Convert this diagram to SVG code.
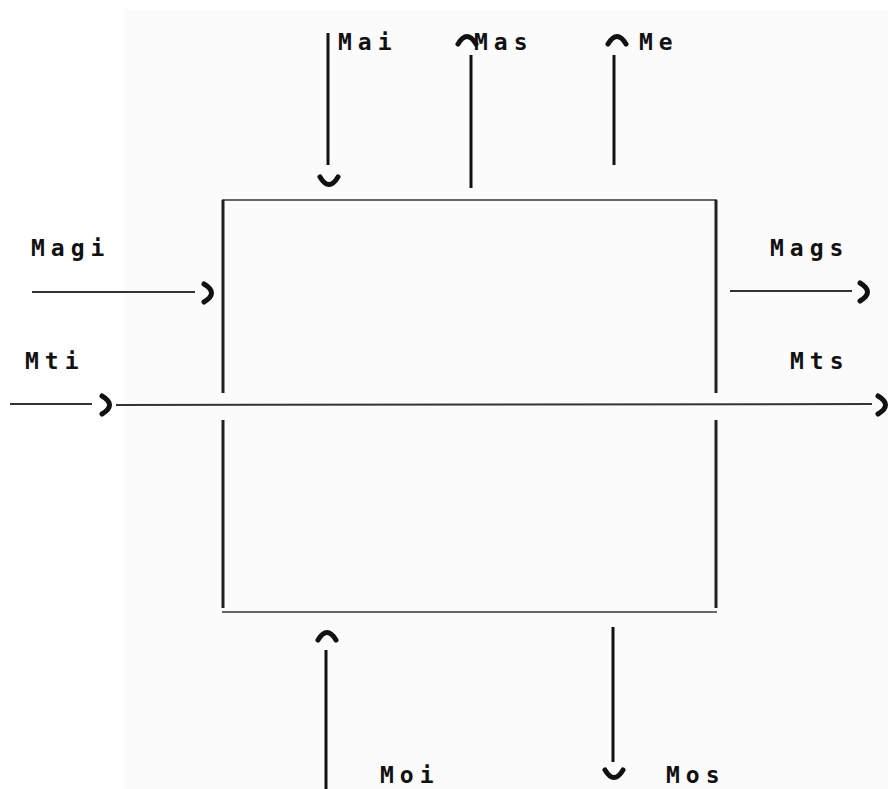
<svg xmlns="http://www.w3.org/2000/svg" width="888" height="789" viewBox="0 0 888 789">
<style>
.bg{fill:#fbfbfb}
.box{stroke:#222;stroke-width:3;fill:none}
.edge{stroke:#666;stroke-width:2;fill:none}
.conn{stroke:#111;stroke-width:3;fill:none}
.hconn{stroke:#333;stroke-width:2;fill:none}
.head{stroke:#111;stroke-width:5;fill:none;stroke-linecap:round}
.lbl{font-family:"DejaVu Sans Mono","Liberation Mono",monospace;font-weight:bold;font-size:23px;letter-spacing:6px;fill:#111}
</style>
<defs>
<path id="hdown" class="head" d="M-9,-4 Q0,11 9,-4"/>
<path id="hup" class="head" d="M-9,4 Q0,-11 9,4"/>
<path id="hright" class="head" d="M-4,-9 Q11,0 -4,9"/>
</defs>
<rect class="bg" x="124" y="9" width="764" height="780"/>
<g id="box">
<line class="edge" x1="222" y1="200" x2="717" y2="200"/>
<line class="edge" x1="222" y1="612" x2="717" y2="612"/>
<line class="box" x1="223" y1="200" x2="223" y2="393"/>
<line class="box" x1="223" y1="420" x2="223" y2="608"/>
<line class="box" x1="716" y1="200" x2="716" y2="393"/>
<line class="box" x1="716" y1="420" x2="716" y2="608"/>
</g>
<g id="connectors">
<line class="conn" x1="328" y1="33" x2="328" y2="165"/>
<use href="#hdown" x="329" y="181"/>
<line class="conn" x1="471" y1="55" x2="471" y2="188"/>
<use href="#hup" x="467" y="40"/>
<line class="conn" x1="614" y1="55" x2="614" y2="165"/>
<use href="#hup" x="617" y="40"/>
<line class="hconn" x1="32" y1="292" x2="195" y2="292"/>
<use href="#hright" x="208" y="293"/>
<line class="hconn" x1="730" y1="291" x2="852" y2="291"/>
<use href="#hright" x="864" y="292"/>
<line class="hconn" x1="10" y1="404" x2="92" y2="404"/>
<use href="#hright" x="106" y="405"/>
<line class="hconn" x1="116" y1="405" x2="872" y2="404"/>
<use href="#hright" x="882" y="405"/>
<use href="#hup" x="327" y="636"/>
<line class="conn" x1="326" y1="650" x2="326" y2="789"/>
<line class="conn" x1="613" y1="627" x2="613" y2="762"/>
<use href="#hdown" x="614" y="774"/>
</g>
<g id="labels">
<text class="lbl" x="338" y="50">Mai</text>
<text class="lbl" x="474" y="50">Mas</text>
<text class="lbl" x="639" y="50">Me</text>
<text class="lbl" x="31" y="256">Magi</text>
<text class="lbl" x="770" y="256">Mags</text>
<text class="lbl" x="25" y="369">Mti</text>
<text class="lbl" x="790" y="369">Mts</text>
<text class="lbl" x="380" y="783">Moi</text>
<text class="lbl" x="666" y="783">Mos</text>
</g>
</svg>
